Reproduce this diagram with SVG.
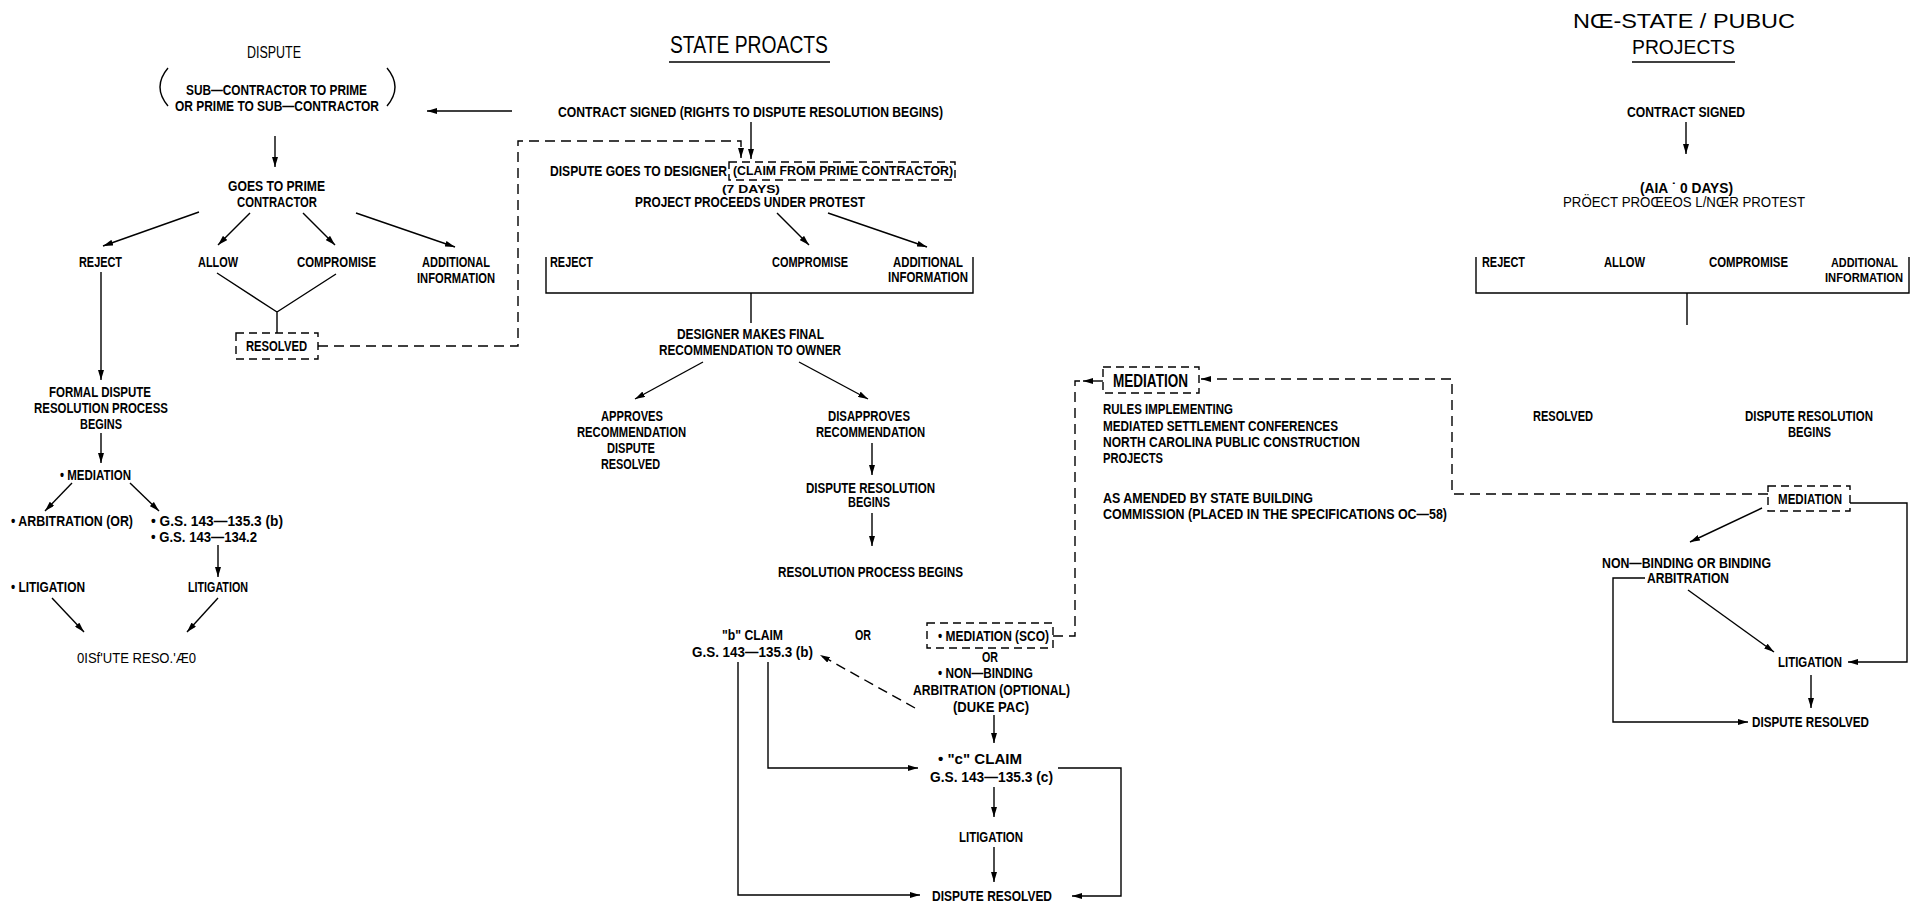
<svg xmlns="http://www.w3.org/2000/svg" width="1915" height="906" viewBox="0 0 1915 906">
<defs>
<marker id="ah" markerUnits="userSpaceOnUse" markerWidth="10" markerHeight="6" refX="10" refY="3" orient="auto">
<path d="M0,0 L10,3 L0,6 z" fill="#000"/>
</marker>
<style>
text{fill:#000;font-family:"Liberation Sans Narrow","Liberation Sans",Arial,sans-serif}
.b{font-weight:bold;font-size:14px}
.r{font-weight:normal;font-size:15px}
.l{stroke:#000;stroke-width:1.4;fill:none}
.a{marker-end:url(#ah)}
.d{stroke-dasharray:10 6}
.bx{stroke:#000;stroke-width:1.4;fill:none;stroke-dasharray:8 5}
</style>
</defs>
<rect width="1915" height="906" fill="#fff"/>

<g id="connectors">
<path class="l a" d="M512,111 L427,111"/>
<path class="l a" d="M275,136 L275,167"/>
<path class="l a" d="M199,212 L103,246"/>
<path class="l a" d="M250,213 L218,245"/>
<path class="l a" d="M303,213 L335,245"/>
<path class="l a" d="M356,213 L455,247"/>
<path class="l" d="M217,273 L277,312 L336,274 M277,312 L277,333"/>
<path class="l a" d="M101,272 L101,380"/>
<path class="l a" d="M101,433 L101,463"/>
<path class="l a" d="M72,483 L45,511"/>
<path class="l a" d="M130,483 L159,511"/>
<path class="l a" d="M218,545 L218,577"/>
<path class="l a" d="M52,598 L84,632"/>
<path class="l a" d="M218,598 L187,632"/>
<path class="l d a" d="M318,346 L518,346 L518,141 L741,141 L741,158"/>
<path class="l a" d="M751,122 L751,159"/>
<path class="l a" d="M777,213 L809,245"/>
<path class="l a" d="M828,213 L927,247"/>
<path class="l" d="M546,257 L546,293 L973,293 L973,257"/>
<path class="l" d="M751,293 L751,323"/>
<path class="l a" d="M703,362 L635,399"/>
<path class="l a" d="M799,362 L868,399"/>
<path class="l a" d="M872,443 L872,475"/>
<path class="l a" d="M872,513 L872,546"/>
<path class="l d a" d="M915,708 L820,655"/>
<path class="l a" d="M738,662 L738,895 L920,895"/>
<path class="l a" d="M768,662 L768,768 L918,768"/>
<path class="l a" d="M1058,768 L1121,768 L1121,896 L1072,896"/>
<path class="l a" d="M994,715 L994,743"/>
<path class="l a" d="M994,787 L994,817"/>
<path class="l a" d="M994,847 L994,882"/>
<path class="l a" d="M1103,381 L1083,381"/>
<path class="l d" d="M1080,381 L1075,381 L1075,636 L1053,636"/>
<path class="l d a" d="M1768,494 L1452,494 L1452,379 L1201,379"/>
<path class="l a" d="M1686,122 L1686,154"/>
<path class="l" d="M1476,257 L1476,293 L1909,293 L1909,257"/>
<path class="l" d="M1687,293 L1687,325"/>
<path class="l a" d="M1850,503 L1907,503 L1907,662 L1848,662"/>
<path class="l a" d="M1762,508 L1690,542"/>
<path class="l a" d="M1645,578 L1613,578 L1613,722 L1748,722"/>
<path class="l a" d="M1688,590 L1774,652"/>
<path class="l a" d="M1811,675 L1811,708"/>
</g>

<!-- LEFT COLUMN -->
<g id="dispute">
<text class="r" style="font-size:16px" x="247" y="58" textLength="54" lengthAdjust="spacingAndGlyphs">DISPUTE</text>
<path class="l" d="M168,68 Q152,87 168,106"/>
<path class="l" d="M387,68 Q403,87 387,106"/>
<text class="b" x="186" y="95" textLength="181" lengthAdjust="spacingAndGlyphs">SUB—CONTRACTOR TO PRIME</text>
<text class="b" x="175" y="111" textLength="204" lengthAdjust="spacingAndGlyphs">OR PRIME TO SUB—CONTRACTOR</text>
</g>
<g id="goes-to-prime">
<text class="b" x="228" y="191" textLength="97" lengthAdjust="spacingAndGlyphs">GOES TO PRIME</text>
<text class="b" x="237" y="207" textLength="80" lengthAdjust="spacingAndGlyphs">CONTRACTOR</text>
</g>
<g id="l-reject"><text class="b" x="79" y="267" textLength="43" lengthAdjust="spacingAndGlyphs">REJECT</text></g>
<g id="l-allow"><text class="b" x="198" y="267" textLength="40" lengthAdjust="spacingAndGlyphs">ALLOW</text></g>
<g id="l-compromise"><text class="b" x="297" y="267" textLength="79" lengthAdjust="spacingAndGlyphs">COMPROMISE</text></g>
<g id="l-additional">
<text class="b" x="422" y="267" textLength="68" lengthAdjust="spacingAndGlyphs">ADDITIONAL</text>
<text class="b" x="417" y="283" textLength="78" lengthAdjust="spacingAndGlyphs">INFORMATION</text>
</g>
<g id="l-resolved">
<rect class="bx" x="236" y="333" width="82" height="26"/>
<text class="b" x="246" y="351" textLength="61" lengthAdjust="spacingAndGlyphs">RESOLVED</text>
</g>
<g id="formal">
<text class="b" x="49" y="397" textLength="102" lengthAdjust="spacingAndGlyphs">FORMAL DISPUTE</text>
<text class="b" x="34" y="413" textLength="134" lengthAdjust="spacingAndGlyphs">RESOLUTION PROCESS</text>
<text class="b" x="80" y="429" textLength="42" lengthAdjust="spacingAndGlyphs">BEGINS</text>
</g>
<g id="l-mediation"><text class="b" x="60" y="480" textLength="71" lengthAdjust="spacingAndGlyphs">• MEDIATION</text></g>
<g id="l-arbitration"><text class="b" x="11" y="526" textLength="122" lengthAdjust="spacingAndGlyphs">• ARBITRATION (OR)</text></g>
<g id="l-gs">
<text class="b" x="151" y="526" textLength="132" lengthAdjust="spacingAndGlyphs">• G.S. 143—135.3 (b)</text>
<text class="b" x="151" y="542" textLength="106" lengthAdjust="spacingAndGlyphs">• G.S. 143—134.2</text>
</g>
<g id="l-litigation1"><text class="b" x="11" y="592" textLength="74" lengthAdjust="spacingAndGlyphs">• LITIGATION</text></g>
<g id="l-litigation2"><text class="b" x="188" y="592" textLength="60" lengthAdjust="spacingAndGlyphs">LITIGATION</text></g>
<g id="l-dispute-resolved"><text class="r" style="font-size:14px" x="77" y="663" textLength="119" lengthAdjust="spacingAndGlyphs">0ISf'UTE RESO.'Æ0</text></g>

<!-- MIDDLE COLUMN -->
<g id="state-title">
<text class="r" style="font-size:23px" x="670" y="53" textLength="158" lengthAdjust="spacingAndGlyphs">STATE PROACTS</text>
<path class="l" d="M669,62 L830,62"/>
</g>
<g id="m-contract"><text class="b" x="558" y="117" textLength="385" lengthAdjust="spacingAndGlyphs">CONTRACT SIGNED (RIGHTS TO DISPUTE RESOLUTION BEGINS)</text></g>
<g id="m-designer">
<text class="b" text-anchor="end" x="727" y="176" textLength="177" lengthAdjust="spacingAndGlyphs">DISPUTE GOES TO DESIGNER</text>
<rect class="bx" x="729" y="162" width="226" height="18"/>
<text class="b" style="font-size:12px" x="733" y="175" textLength="220" lengthAdjust="spacingAndGlyphs">(CLAIM FROM PRIME CONTRACTOR)</text>
<text class="b" style="font-size:11px" x="722" y="193" textLength="58" lengthAdjust="spacingAndGlyphs">(7 DAYS)</text>
<text class="b" x="635" y="207" textLength="230" lengthAdjust="spacingAndGlyphs">PROJECT PROCEEDS UNDER PROTEST</text>
</g>
<g id="m-reject"><text class="b" x="550" y="267" textLength="43" lengthAdjust="spacingAndGlyphs">REJECT</text></g>
<g id="m-compromise"><text class="b" x="772" y="267" textLength="76" lengthAdjust="spacingAndGlyphs">COMPROMISE</text></g>
<g id="m-additional">
<text class="b" x="893" y="267" textLength="70" lengthAdjust="spacingAndGlyphs">ADDITIONAL</text>
<text class="b" x="888" y="282" textLength="80" lengthAdjust="spacingAndGlyphs">INFORMATION</text>
</g>
<g id="m-final">
<text class="b" x="677" y="339" textLength="147" lengthAdjust="spacingAndGlyphs">DESIGNER MAKES FINAL</text>
<text class="b" x="659" y="355" textLength="182" lengthAdjust="spacingAndGlyphs">RECOMMENDATION TO OWNER</text>
</g>
<g id="m-approves">
<text class="b" x="601" y="421" textLength="62" lengthAdjust="spacingAndGlyphs">APPROVES</text>
<text class="b" x="577" y="437" textLength="109" lengthAdjust="spacingAndGlyphs">RECOMMENDATION</text>
<text class="b" x="607" y="453" textLength="48" lengthAdjust="spacingAndGlyphs">DISPUTE</text>
<text class="b" x="601" y="469" textLength="59" lengthAdjust="spacingAndGlyphs">RESOLVED</text>
</g>
<g id="m-disapproves">
<text class="b" x="828" y="421" textLength="82" lengthAdjust="spacingAndGlyphs">DISAPPROVES</text>
<text class="b" x="816" y="437" textLength="109" lengthAdjust="spacingAndGlyphs">RECOMMENDATION</text>
</g>
<g id="m-dr-begins">
<text class="b" x="806" y="493" textLength="129" lengthAdjust="spacingAndGlyphs">DISPUTE RESOLUTION</text>
<text class="b" x="848" y="507" textLength="42" lengthAdjust="spacingAndGlyphs">BEGINS</text>
</g>
<g id="m-rp-begins"><text class="b" x="778" y="577" textLength="185" lengthAdjust="spacingAndGlyphs">RESOLUTION PROCESS BEGINS</text></g>
<g id="m-b-claim">
<text class="b" x="722" y="640" textLength="61" lengthAdjust="spacingAndGlyphs">"b" CLAIM</text>
<text class="b" x="692" y="657" textLength="121" lengthAdjust="spacingAndGlyphs">G.S. 143—135.3 (b)</text>
</g>
<g id="m-or"><text class="b" x="855" y="640" textLength="16" lengthAdjust="spacingAndGlyphs">OR</text></g>
<g id="m-sco">
<rect class="bx" x="927" y="623" width="126" height="25"/>
<text class="b" x="938" y="641" textLength="111" lengthAdjust="spacingAndGlyphs">• MEDIATION (SCO)</text>
<text class="b" x="982" y="662" textLength="16" lengthAdjust="spacingAndGlyphs">OR</text>
<text class="b" x="938" y="678" textLength="95" lengthAdjust="spacingAndGlyphs">• NON—BINDING</text>
<text class="b" x="913" y="695" textLength="157" lengthAdjust="spacingAndGlyphs">ARBITRATION (OPTIONAL)</text>
<text class="b" x="953" y="712" textLength="76" lengthAdjust="spacingAndGlyphs">(DUKE PAC)</text>
</g>
<g id="m-c-claim">
<text class="b" x="938" y="764" textLength="84" lengthAdjust="spacingAndGlyphs">•  "c" CLAIM</text>
<text class="b" x="930" y="782" textLength="123" lengthAdjust="spacingAndGlyphs">G.S. 143—135.3 (c)</text>
</g>
<g id="m-litigation"><text class="b" x="959" y="842" textLength="64" lengthAdjust="spacingAndGlyphs">LITIGATION</text></g>
<g id="m-dispute-resolved"><text class="b" x="932" y="901" textLength="120" lengthAdjust="spacingAndGlyphs">DISPUTE RESOLVED</text></g>

<!-- MEDIATION NOTE -->
<g id="mediation-note">
<rect class="bx" x="1103" y="367" width="96" height="26"/>
<text class="b" style="font-size:18px" x="1113" y="387" textLength="75" lengthAdjust="spacingAndGlyphs">MEDIATION</text>
<text class="b" x="1103" y="414" textLength="130" lengthAdjust="spacingAndGlyphs">RULES IMPLEMENTING</text>
<text class="b" x="1103" y="431" textLength="235" lengthAdjust="spacingAndGlyphs">MEDIATED SETTLEMENT CONFERENCES</text>
<text class="b" x="1103" y="447" textLength="257" lengthAdjust="spacingAndGlyphs">NORTH CAROLINA PUBLIC CONSTRUCTION</text>
<text class="b" x="1103" y="463" textLength="60" lengthAdjust="spacingAndGlyphs">PROJECTS</text>
<text class="b" x="1103" y="503" textLength="210" lengthAdjust="spacingAndGlyphs">AS AMENDED BY STATE BUILDING</text>
<text class="b" x="1103" y="519" textLength="344" lengthAdjust="spacingAndGlyphs">COMMISSION (PLACED IN THE SPECIFICATIONS OC—58)</text>
</g>

<!-- RIGHT COLUMN -->
<g id="nonstate-title">
<text class="r" style="font-size:21px" x="1573" y="28" textLength="222" lengthAdjust="spacingAndGlyphs">NŒ-STATE / PUBUC</text>
<text class="r" style="font-size:21px" x="1632" y="54" textLength="103" lengthAdjust="spacingAndGlyphs">PROJECTS</text>
<path class="l" d="M1632,62 L1735,62"/>
</g>
<g id="r-contract"><text class="b" x="1627" y="117" textLength="118" lengthAdjust="spacingAndGlyphs">CONTRACT SIGNED</text></g>
<g id="r-aia">
<text class="b" x="1640" y="193" textLength="93" lengthAdjust="spacingAndGlyphs">(AIA ˙ 0 DAYS)</text>
<text class="r" x="1563" y="207" textLength="242" lengthAdjust="spacingAndGlyphs">PRÖECT PROŒEOS L/NŒR PROTEST</text>
</g>
<g id="r-reject"><text class="b" x="1482" y="267" textLength="43" lengthAdjust="spacingAndGlyphs">REJECT</text></g>
<g id="r-allow"><text class="b" x="1604" y="267" textLength="41" lengthAdjust="spacingAndGlyphs">ALLOW</text></g>
<g id="r-compromise"><text class="b" x="1709" y="267" textLength="79" lengthAdjust="spacingAndGlyphs">COMPROMISE</text></g>
<g id="r-additional">
<text class="b" style="font-size:13px" x="1831" y="267" textLength="67" lengthAdjust="spacingAndGlyphs">ADDITIONAL</text>
<text class="b" style="font-size:13px" x="1825" y="282" textLength="78" lengthAdjust="spacingAndGlyphs">INFORMATION</text>
</g>
<g id="r-resolved"><text class="b" x="1533" y="421" textLength="60" lengthAdjust="spacingAndGlyphs">RESOLVED</text></g>
<g id="r-dr-begins">
<text class="b" x="1745" y="421" textLength="128" lengthAdjust="spacingAndGlyphs">DISPUTE RESOLUTION</text>
<text class="b" x="1788" y="437" textLength="43" lengthAdjust="spacingAndGlyphs">BEGINS</text>
</g>
<g id="r-mediation">
<rect class="bx" x="1768" y="486" width="82" height="25"/>
<text class="b" x="1778" y="504" textLength="64" lengthAdjust="spacingAndGlyphs">MEDIATION</text>
</g>
<g id="r-arbitration">
<text class="b" x="1602" y="568" textLength="169" lengthAdjust="spacingAndGlyphs">NON—BINDING OR BINDING</text>
<text class="b" x="1647" y="583" textLength="82" lengthAdjust="spacingAndGlyphs">ARBITRATION</text>
</g>
<g id="r-litigation"><text class="b" x="1778" y="667" textLength="64" lengthAdjust="spacingAndGlyphs">LITIGATION</text></g>
<g id="r-dispute-resolved"><text class="b" x="1752" y="727" textLength="117" lengthAdjust="spacingAndGlyphs">DISPUTE RESOLVED</text></g>
</svg>
